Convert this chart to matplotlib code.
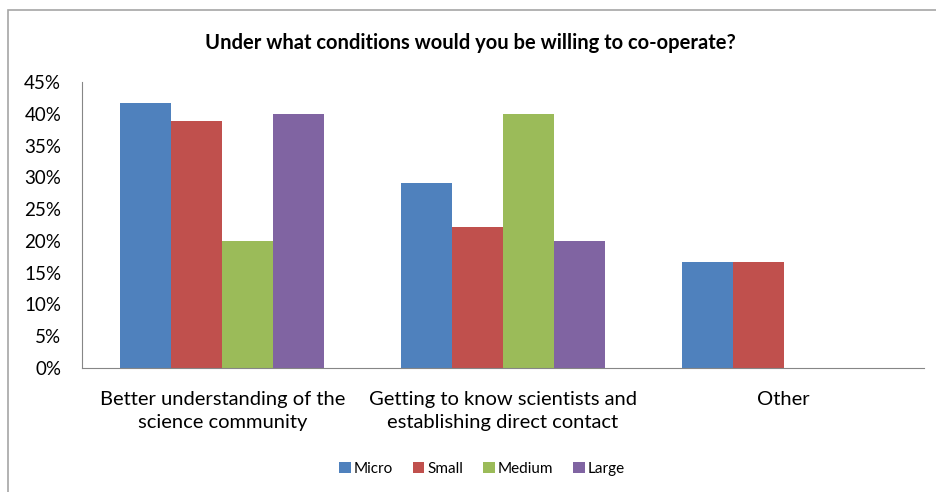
import matplotlib.pyplot as plt
import numpy as np
from matplotlib.patches import Rectangle
from matplotlib.ticker import FuncFormatter

categories = ["Better understanding of the\nscience community",
              "Getting to know scientists and\nestablishing direct contact",
              "Other"]
series_names = ["Micro", "Small", "Medium", "Large"]
micro = [41.7, 29.1, 16.7]
small = [38.8, 22.2, 16.7]
medium = [20.0, 40.0, 0.0]
large = [40.0, 20.0, 0.0]
colors = ["#4F81BD", "#C0504D", "#9BBB59", "#8064A2"]

plt.rcParams['font.family'] = ['Lato', 'DejaVu Sans']

W, H = 936, 492
fig = plt.figure(figsize=(W / 100, H / 100), dpi=100)
fig.patch.set_facecolor("white")

# outer chart frame
fig.add_artist(Rectangle((8 / W, -0.01), 1.0, 1 - 10 / H + 0.01, transform=fig.transFigure,
                         fill=False, edgecolor="#A6A6A6", linewidth=1.2))

ax = fig.add_axes([82 / W, 1 - 368 / H, (924 - 82) / W, (368 - 82) / H])
data = [micro, small, medium, large]
x = np.arange(len(categories))
bw = 0.182
for i, (vals, c, name) in enumerate(zip(data, colors, series_names)):
    ax.bar(x + (i - 1.5) * bw, vals, bw, color=c, label=name, linewidth=0)

ax.set_xlim(-0.5, 2.5)
ax.set_ylim(0, 45)
ax.set_yticks(np.arange(0, 46, 5))
ax.yaxis.set_major_formatter(FuncFormatter(lambda v, p: f"{int(v)}%"))
ax.set_xticks(x)
ax.set_xticklabels(categories, fontsize=14.5, linespacing=1.45)
ax.tick_params(axis='y', labelsize=13.5, length=0, pad=15)
ax.tick_params(axis='x', length=0, pad=16.5)
for s in ["top", "right"]:
    ax.spines[s].set_visible(False)
ax.spines["left"].set_color("#868686")
ax.spines["bottom"].set_color("#868686")

fig.text(470 / W, 1 - 43 / H, "Under what conditions would you be willing to co-operate?",
         ha="center", va="center", fontsize=14.5, fontweight="bold")

fig.legend(loc="center", bbox_to_anchor=(482 / W, 1 - 469 / H), ncol=4, frameon=False,
           fontsize=11, handlelength=0.75, handleheight=0.75, handletextpad=0.2,
           columnspacing=1.3)

fig.savefig("out.png", dpi=100)
